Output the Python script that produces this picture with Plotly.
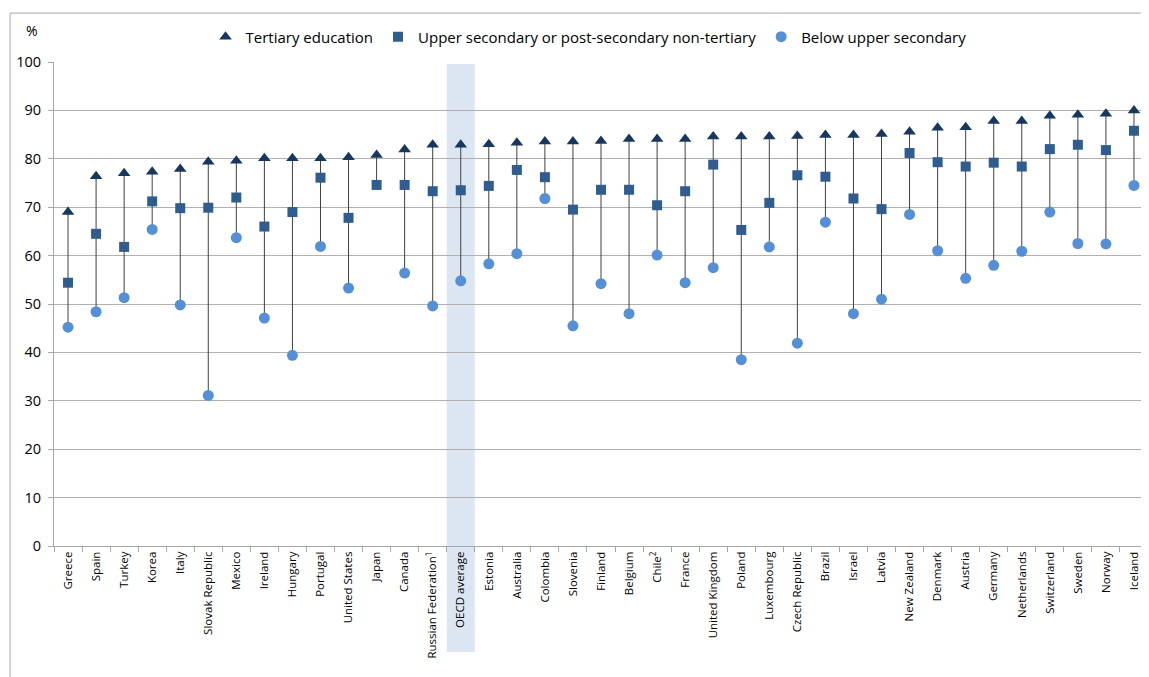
import plotly.graph_objects as go

countries = [
    "Greece", "Spain", "Turkey", "Korea", "Italy", "Slovak Republic", "Mexico",
    "Ireland", "Hungary", "Portugal", "United States", "Japan", "Canada",
    "Russian Federation<sup>1</sup>", "OECD average", "Estonia", "Australia",
    "Colombia", "Slovenia", "Finland", "Belgium", "Chile<sup>2</sup>", "France",
    "United Kingdom", "Poland", "Luxembourg", "Czech Republic", "Brazil",
    "Israel", "Latvia", "New Zealand", "Denmark", "Austria", "Germany",
    "Netherlands", "Switzerland", "Sweden", "Norway", "Iceland",
]

tertiary = [
    69.0, 76.4, 77.0, 77.3, 77.9, 79.4, 79.6, 80.1, 80.1, 80.1, 80.3, 80.8,
    81.9, 82.9, 82.9, 83.0, 83.3, 83.6, 83.6, 83.7, 84.1, 84.1, 84.1, 84.6,
    84.6, 84.6, 84.7, 84.9, 84.9, 85.1, 85.6, 86.4, 86.5, 87.8, 87.8, 88.9,
    89.1, 89.3, 90.0,
]

upper = [
    54.4, 64.5, 61.8, 71.2, 69.8, 69.9, 72.0, 66.0, 69.0, 76.1, 67.8, 74.6,
    74.6, 73.3, 73.5, 74.4, 77.7, 76.2, 69.5, 73.6, 73.6, 70.4, 73.3, 78.8,
    65.3, 70.9, 76.6, 76.3, 71.8, 69.6, 81.2, 79.3, 78.4, 79.2, 78.4, 82.0,
    82.9, 81.8, 85.8,
]

below = [
    45.2, 48.4, 51.3, 65.4, 49.8, 31.1, 63.7, 47.1, 39.4, 61.9, 53.3, None,
    56.4, 49.6, 54.8, 58.3, 60.4, 71.8, 45.5, 54.2, 48.0, 60.1, 54.4, 57.5,
    38.5, 61.8, 41.9, 66.9, 48.0, 51.0, 68.5, 61.0, 55.3, 58.0, 60.9, 69.0,
    62.5, 62.4, 74.5,
]

highlight = "OECD average"

FONT = "Open Sans"
C_TRI = "#17375e"
C_SQ = "#2f5d8f"
C_CIR = "#5590d6"

# vertical range lines (min to max for each category)
line_x, line_y = [], []
for c, t, u, b in zip(countries, tertiary, upper, below):
    vals = [v for v in (t, u, b) if v is not None]
    line_x += [c, c, None]
    line_y += [min(vals), max(vals), None]

fig = go.Figure()
fig.add_trace(go.Scatter(
    x=line_x, y=line_y, mode="lines",
    line=dict(color="#404040", width=1),
    showlegend=False, hoverinfo="skip",
))
fig.add_trace(go.Scatter(
    x=countries, y=tertiary, mode="markers", name="Tertiary education",
    marker=dict(symbol="triangle-up", size=11, color=C_TRI),
))
fig.add_trace(go.Scatter(
    x=countries, y=upper, mode="markers",
    name="Upper secondary or post-secondary non-tertiary",
    marker=dict(symbol="square", size=10, color=C_SQ),
))
fig.add_trace(go.Scatter(
    x=countries, y=below, mode="markers", name="Below upper secondary",
    marker=dict(symbol="circle", size=11, color=C_CIR),
))

hi = countries.index(highlight)
fig.add_shape(
    type="rect", xref="x", yref="paper",
    x0=hi - 0.5, x1=hi + 0.5, y0=-0.219, y1=0.996,
    fillcolor="#dce6f2", line=dict(width=0), layer="below",
)
# outer chart border
fig.add_shape(
    type="rect", xref="paper", yref="paper",
    x0=-0.0402, x1=1.02, y0=-0.35, y1=1.101,
    line=dict(color="#a6a6a6", width=1), fillcolor="rgba(0,0,0,0)",
)

fig.add_annotation(
    text="%", xref="paper", yref="paper", x=-0.0201, y=1.066,
    xanchor="center", yanchor="middle",
    showarrow=False, font=dict(family=FONT, size=14, color="#000000"),
)

fig.update_layout(
    width=1141, height=669,
    margin=dict(l=46, r=1, t=54, b=131, pad=0),
    paper_bgcolor="white", plot_bgcolor="rgba(0,0,0,0)",
    font=dict(family=FONT, size=13, color="#000000"),
    legend=dict(
        orientation="h", x=0.1385, y=1.0517, xanchor="left", yanchor="middle",
        font=dict(family=FONT, size=15, color="#000000"),
        bgcolor="rgba(0,0,0,0)", traceorder="normal",
    ),
    xaxis=dict(
        type="category", categoryorder="array", categoryarray=countries,
        range=[-0.5, len(countries) - 0.5],
        tickangle=-90, ticks="outside", tickson="boundaries", ticklen=5,
        tickcolor="#a6a6a6", showline=True, linecolor="#a6a6a6",
        showgrid=False, tickfont=dict(family=FONT, size=11.5, color="#000000"),
    ),
    yaxis=dict(
        range=[0, 100], dtick=10, ticks="outside", ticklen=5,
        tickcolor="#a6a6a6", showline=True, linecolor="#a6a6a6",
        showgrid=True, gridcolor="#b0b0b0", gridwidth=1, zeroline=False,
        ticklabelstandoff=4,
        tickfont=dict(family=FONT, size=14.5, color="#000000"),
    ),
)

fig.write_html("out.html")
